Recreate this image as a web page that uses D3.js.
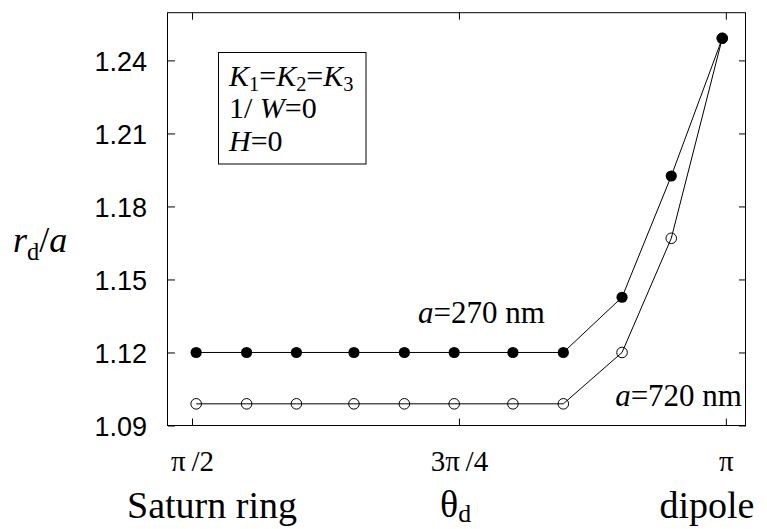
<!DOCTYPE html>
<html>
<head>
<meta charset="utf-8">
<script src="https://cdn.jsdelivr.net/npm/d3@7"></script>
<style>
  body { margin: 0; background: #fff; }
  svg { display: block; }
  .serif { font-family: "Liberation Serif", "Times New Roman", serif; }
</style>
</head>
<body>
<svg id="chart" width="767" height="529"></svg>
<script>
// theta_d in degrees (ticks shown as fractions of pi)
var thetaDeg = [90.7, 99.2, 107.6, 117.3, 125.8, 134.2, 144.1, 152.6, 162.5, 170.8, 179.4];
// r_d / a for the two particle radii
var r270 = [1.12, 1.12, 1.12, 1.12, 1.12, 1.12, 1.12, 1.12, 1.1427, 1.1925, 1.2491];
var r720 = [1.0989, 1.0989, 1.0989, 1.0989, 1.0989, 1.0989, 1.0989, 1.0989, 1.12, 1.1669, 1.2491];

var xTicks = [90, 135, 180];
var xTickLabels = ["\u03c0\u2009/2", "3\u03c0\u2009/4", "\u03c0"];
var yTicks = [1.09, 1.12, 1.15, 1.18, 1.21, 1.24];

var svg = d3.select("#chart");

var plotL = 168, plotR = 746, plotT = 12.7, plotB = 425.5;

var x = d3.scaleLinear().domain([85.95, 183.4]).range([plotL, plotR]);
var y = d3.scaleLinear().domain([1.09, 1.2596]).range([plotB, plotT]);

// axes, ticks pointing inward on all four sides
var gLeft = svg.append("g")
	.attr("transform", "translate(" + plotL + ",0)")
	.call(d3.axisLeft(y).tickValues(yTicks).tickSize(-7).tickPadding(21).tickFormat(d3.format(".2f")));
gLeft.selectAll("text")
	.attr("dy", "0.38em")
	.style("font-family", "'Liberation Sans', Arial, sans-serif")
	.style("font-size", "27px")
	.style("fill", "#000");

svg.append("g")
	.attr("transform", "translate(" + plotR + ",0)")
	.call(d3.axisRight(y).tickValues(yTicks).tickSize(-7).tickFormat(""));

var gBottom = svg.append("g")
	.attr("transform", "translate(0," + plotB + ")")
	.call(d3.axisBottom(x).tickValues(xTicks).tickSize(-7).tickPadding(25)
		.tickFormat(function (d, i) { return xTickLabels[i]; }));
gBottom.selectAll("text")
	.attr("dy", "0.71em")
	.attr("class", "serif")
	.style("font-size", "29px")
	.style("fill", "#000");

svg.append("g")
	.attr("transform", "translate(0," + plotT + ")")
	.call(d3.axisTop(x).tickValues(xTicks).tickSize(-7).tickFormat(""));

svg.selectAll(".domain").remove();
svg.selectAll(".tick line").attr("stroke", "#000");

// frame
svg.append("rect")
	.attr("x", plotL - 0.5)
	.attr("y", plotT)
	.attr("width", plotR - plotL)
	.attr("height", plotB - plotT)
	.attr("fill", "none")
	.attr("stroke", "#000")
	.attr("stroke-width", 1);

// series
var line = d3.line()
	.x(function (d) { return x(d[0]); })
	.y(function (d) { return y(d[1]); });

var pts720 = thetaDeg.map(function (t, i) { return [t, r720[i]]; });
var pts270 = thetaDeg.map(function (t, i) { return [t, r270[i]]; });

svg.append("path").datum(pts720).attr("d", line)
	.attr("fill", "none").attr("stroke", "#000").attr("stroke-width", 1);
svg.append("path").datum(pts270).attr("d", line)
	.attr("fill", "none").attr("stroke", "#000").attr("stroke-width", 1);

svg.append("g").selectAll("circle")
	.data(pts720)
	.enter()
	.append("circle")
	.attr("cx", function (d) { return x(d[0]); })
	.attr("cy", function (d) { return y(d[1]); })
	.attr("r", 5.3)
	.attr("fill", "none")
	.attr("stroke", "#000")
	.attr("stroke-width", 1);

svg.append("g").selectAll("circle")
	.data(pts270)
	.enter()
	.append("circle")
	.attr("cx", function (d) { return x(d[0]); })
	.attr("cy", function (d) { return y(d[1]); })
	.attr("r", 5.6)
	.attr("fill", "#000");

// rich text helper: segments of {t, it, sub}
function richText(px, py, size, segs, anchor, subShift) {
	var t = svg.append("text")
		.attr("class", "serif")
		.attr("x", px)
		.attr("y", py)
		.attr("text-anchor", anchor || "start")
		.style("font-size", size + "px")
		.style("fill", "#000");
	var shift = 0;
	var k = subShift == null ? 0.22 : subShift;
	segs.forEach(function (s) {
		var ts = t.append("tspan").text(s.t);
		if (s.it) ts.style("font-style", "italic");
		var want = s.sub ? size * k : 0;
		if (want !== shift) { ts.attr("dy", want - shift); shift = want; }
		if (s.sub) ts.style("font-size", (size * 0.68) + "px");
	});
	return t;
}

// legend box
svg.append("rect")
	.attr("x", 218.5).attr("y", 52.5)
	.attr("width", 147.5).attr("height", 111.5)
	.attr("fill", "#fff").attr("stroke", "#000").attr("stroke-width", 1);

richText(229, 86, 30, [
	{ t: "K", it: true }, { t: "1", sub: true }, { t: "=" },
	{ t: "K", it: true }, { t: "2", sub: true }, { t: "=" },
	{ t: "K", it: true }, { t: "3", sub: true }
], "start", 0.18);
richText(229, 118, 30, [{ t: "1/ " }, { t: "W", it: true }, { t: "=0" }]);
richText(229, 151, 30, [{ t: "H", it: true }, { t: "=0" }]);

// series labels
richText(418, 323, 31, [{ t: "a", it: true }, { t: "=270 nm" }]);
richText(742, 406, 31, [{ t: "a", it: true }, { t: "=720 nm" }], "end");

// axis titles
richText(13, 252, 36, [{ t: "r", it: true }, { t: "d", sub: true }, { t: "/" }, { t: "a", it: true }]);
richText(212, 518, 38, [{ t: "Saturn ring" }], "middle");
richText(440, 517, 38, [{ t: "\u03b8" }, { t: "d", sub: true }], "start", 0.13);
richText(707, 518, 38, [{ t: "dipole" }], "middle");
</script>
</body>
</html>
